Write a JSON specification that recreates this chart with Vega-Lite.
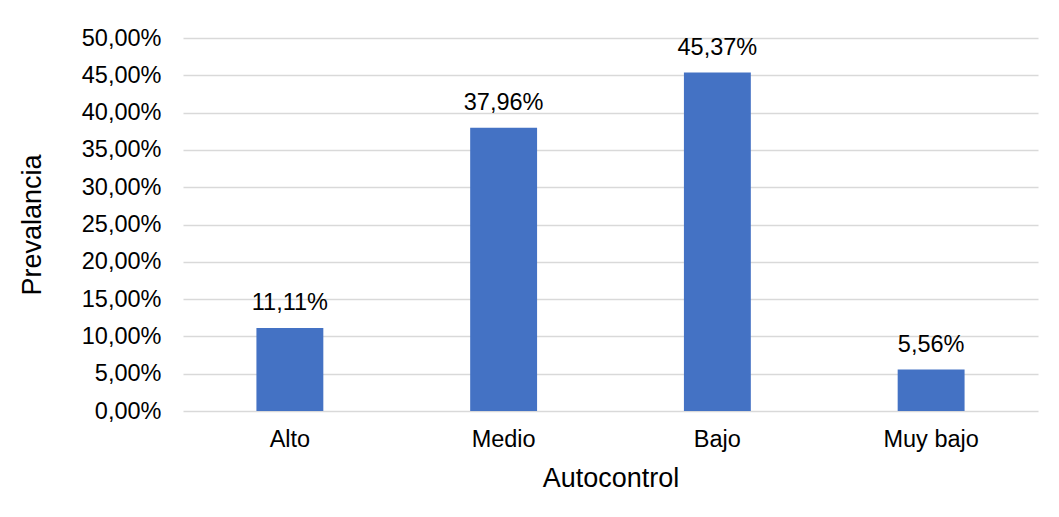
{
  "$schema": "https://vega.github.io/schema/vega-lite/v6.json",
  "width": 855,
  "height": 373,
  "autosize": {"type": "none"},
  "padding": {"left": 183, "top": 38, "right": 21, "bottom": 106},
  "background": "white",
  "config": {
    "view": {"stroke": null},
    "font": "Liberation Sans",
    "locale": {
      "number": {"decimal": ",", "thousands": ".", "grouping": [3], "currency": ["", " €"]}
    },
    "axis": {
      "labelFont": "Liberation Sans",
      "titleFont": "Liberation Sans",
      "labelColor": "#000000",
      "titleColor": "#000000",
      "labelFontSize": 23.5,
      "titleFontSize": 27,
      "titleFontWeight": "normal",
      "ticks": false,
      "domain": false
    }
  },
  "data": {
    "values": [
      {"nivel": "Alto", "prevalencia": 0.1111},
      {"nivel": "Medio", "prevalencia": 0.3796},
      {"nivel": "Bajo", "prevalencia": 0.4537},
      {"nivel": "Muy bajo", "prevalencia": 0.0556}
    ]
  },
  "encoding": {
    "x": {
      "field": "nivel",
      "type": "nominal",
      "sort": null,
      "scale": {"paddingInner": 0.687, "paddingOuter": 0.3435},
      "axis": {
        "title": "Autocontrol",
        "labelAngle": 0,
        "labelPadding": 16,
        "titleY": 67,
        "titleBaseline": "middle",
        "grid": false
      }
    },
    "y": {
      "field": "prevalencia",
      "type": "quantitative",
      "scale": {"domain": [0, 0.5], "nice": false},
      "axis": {
        "title": "Prevalancia",
        "format": ".2%",
        "values": [0, 0.05, 0.1, 0.15, 0.2, 0.25, 0.3, 0.35, 0.4, 0.45, 0.5],
        "labelPadding": 22,
        "grid": true,
        "gridColor": "#D9D9D9",
        "gridWidth": 1.3,
        "titleX": -151,
        "titleBaseline": "middle"
      }
    }
  },
  "layer": [
    {"mark": {"type": "bar", "color": "#4472C4"}},
    {
      "mark": {"type": "text", "baseline": "alphabetic", "dy": -18, "fontSize": 23.5, "color": "#000000", "font": "Liberation Sans"},
      "encoding": {"text": {"field": "prevalencia", "type": "quantitative", "format": ".2%"}}
    }
  ]
}
